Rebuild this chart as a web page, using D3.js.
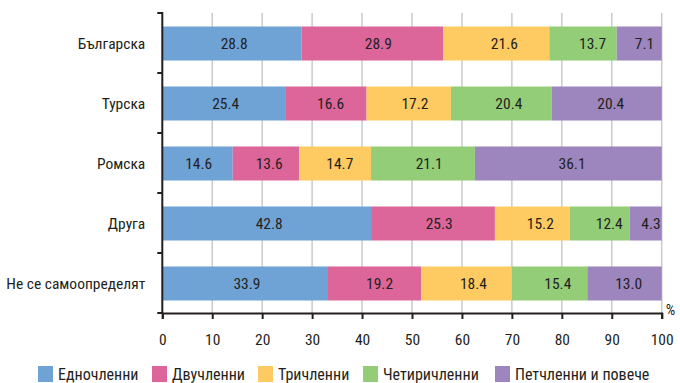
<!DOCTYPE html>
<html lang="bg">
<head>
<meta charset="utf-8">
<title>Домакинства по етническа група</title>
<script src="https://cdnjs.cloudflare.com/ajax/libs/d3/7.8.5/d3.min.js"></script>
<style>
body { margin: 0; background: #fff; }
svg text { font-family: "Roboto Condensed", "Liberation Sans Narrow", "DejaVu Sans Condensed", sans-serif; fill: #231f20; }
</style>
</head>
<body>
<div id="chart"></div>
<script>
var groups = ["Българска", "Турска", "Ромска", "Друга", "Не се самоопределят"];
var seriesNames = ["Едночленни", "Двучленни", "Тричленни", "Четиричленни", "Петчленни и повече"];
var colors = ["#6fa3d6", "#dc6699", "#fecb62", "#93cd78", "#9c86bd"];
// printed values (labels)
var values = [
    [28.8, 28.9, 21.6, 13.7, 7.1],
    [25.4, 16.6, 17.2, 20.4, 20.4],
    [14.6, 13.6, 14.7, 21.1, 36.1],
    [42.8, 25.3, 15.2, 12.4, 4.3],
    [33.9, 19.2, 18.4, 15.4, 13.0]
];
// segment lengths as drawn in the picture (they differ slightly from the labels)
var barValues = [
    [27.9, 28.4, 21.2, 13.5, 9.0],
    [24.6, 16.3, 16.9, 20.2, 22.0],
    [14.1, 13.3, 14.4, 20.8, 37.4],
    [41.8, 24.8, 15.0, 12.0, 6.4],
    [33.0, 18.8, 18.2, 15.1, 14.9]
];
var xTicks = [0, 10, 20, 30, 40, 50, 60, 70, 80, 90, 100];

var width = 680, height = 383;
var margin = {top: 13, right: 18.3, bottom: 70, left: 162.3};

var svg = d3.select("#chart").append("svg")
    .attr("width", width)
    .attr("height", height);

var x = d3.scaleLinear()
    .domain([0, 100])
    .range([margin.left, width - margin.right]);

var y = d3.scaleBand()
    .domain(groups)
    .range([margin.top, height - margin.bottom])
    .paddingInner(0.433)
    .paddingOuter(0.2167);

// gridlines
svg.append("g")
    .selectAll("line")
    .data(xTicks.slice(1))
    .enter().append("line")
        .attr("x1", d => x(d))
        .attr("x2", d => x(d))
        .attr("y1", margin.top)
        .attr("y2", height - margin.bottom)
        .attr("stroke", "#cacaca")
        .attr("stroke-width", 1.5);

function stack(arr) {
    return groups.map(function(g, i) {
        var acc = 0;
        return arr[i].map(function(v, j) {
            var seg = {group: g, value: v, x0: acc, x1: acc + v, k: j};
            acc += v;
            return seg;
        });
    });
}
var barRows = stack(barValues);
var labelRows = stack(values);

var row = svg.append("g").selectAll(".row")
    .data(barRows)
    .enter().append("g")
        .attr("class", "row");

row.selectAll("rect")
    .data(d => d)
    .enter().append("rect")
        .attr("x", d => x(d.x0))
        .attr("width", d => x(Math.min(d.x1, 100)) - x(d.x0))
        .attr("y", d => y(d.group) + 0.5)
        .attr("height", y.bandwidth())
        .attr("fill", d => colors[d.k]);

var lrow = svg.append("g").selectAll(".lrow")
    .data(labelRows)
    .enter().append("g")
        .attr("class", "lrow");

lrow.selectAll("text")
    .data(d => d)
    .enter().append("text")
        .attr("x", d => x((d.x0 + d.x1) / 2))
        .attr("y", d => y(d.group) + y.bandwidth() / 2 + 0.5)
        .attr("dy", "0.35em")
        .attr("text-anchor", "middle")
        .attr("font-size", 15.5)
        .text(d => d.value.toFixed(1));

// y axis
var yAxis = svg.append("g");
var plotH = height - margin.bottom - margin.top;
yAxis.selectAll(".tick")
    .data(d3.range(groups.length + 1))
    .enter().append("line")
        .attr("x1", margin.left - 5).attr("x2", margin.left)
        .attr("y1", i => margin.top + i * plotH / groups.length)
        .attr("y2", i => margin.top + i * plotH / groups.length)
        .attr("stroke", "#231f20").attr("stroke-width", 2);
yAxis.append("line")
    .attr("x1", margin.left).attr("x2", margin.left)
    .attr("y1", margin.top - 1).attr("y2", height - margin.bottom)
    .attr("stroke", "#231f20").attr("stroke-width", 2);
yAxis.selectAll("text")
    .data(groups)
    .enter().append("text")
        .attr("x", margin.left - 17)
        .attr("y", d => y(d) + y.bandwidth() / 2 + 0.5)
        .attr("dy", "0.35em")
        .attr("text-anchor", "end")
        .attr("font-size", 15.5)
        .text(d => d);

// x axis
var xAxis = svg.append("g")
    .attr("transform", "translate(0," + (height - margin.bottom) + ")")
    .call(d3.axisBottom(x).tickValues(xTicks).tickSize(6).tickPadding(15).tickFormat(d3.format("d")));
xAxis.select(".domain").attr("stroke", "#231f20").attr("stroke-width", 2);
xAxis.selectAll(".tick line").attr("stroke", "#231f20").attr("stroke-width", 2);
xAxis.selectAll(".tick text").attr("font-size", 15.5).attr("fill", "#231f20")
    .style("font-family", "'Roboto Condensed', 'Liberation Sans Narrow', sans-serif");

svg.append("text")
    .attr("x", x(100) + 4)
    .attr("y", height - margin.bottom + 2)
    .attr("font-size", 15)
    .text("%");

// legend
var legendX = [38, 152, 258, 363, 495];
var legend = svg.append("g").selectAll(".legend")
    .data(seriesNames)
    .enter().append("g")
        .attr("class", "legend")
        .attr("transform", (d, i) => "translate(" + legendX[i] + "," + 366 + ")");
legend.append("rect")
    .attr("width", 15).attr("height", 16)
    .attr("fill", (d, i) => colors[i]);
legend.append("text")
    .attr("x", 20)
    .attr("y", 13.5)
    .attr("font-size", 16)
    .text(d => d);
</script>
</body>
</html>
